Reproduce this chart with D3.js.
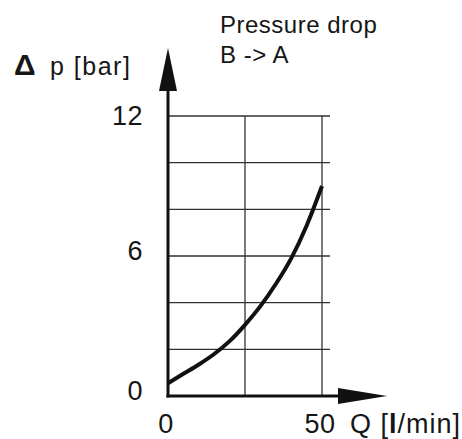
<!DOCTYPE html>
<html>
<head>
<meta charset="utf-8">
<script src="https://cdn.jsdelivr.net/npm/d3@7"></script>
<style>
  html, body { margin: 0; padding: 0; background: #fff; }
  text { font-family: "Liberation Sans", Arial, Helvetica, sans-serif; fill: #161616; }
</style>
</head>
<body>
<div id="chart"></div>
<script>
// DATA
const flowQ = [0, 5, 10, 15, 20, 25, 30, 35, 40, 45, 50];
const dropP = [0.55, 0.95, 1.35, 1.8, 2.35, 3.05, 3.85, 4.8, 5.9, 7.3, 9.0];
const yTicks = [0, 6, 12];
const xTicks = [0, 50];
const yGrid = [2, 4, 6, 8, 10, 12];
const xGrid = [25, 50];

const w = 462, h = 439;

const svg = d3.select("#chart").append("svg")
    .attr("width", w)
    .attr("height", h);

// SCALES
const x = d3.scaleLinear().domain([0, 50]).range([168, 322]);
const y = d3.scaleLinear().domain([0, 12]).range([396, 116]);

// GRID
svg.selectAll(".hgrid").data(yGrid).enter()
    .append("line")
    .attr("class", "hgrid")
    .attr("x1", x(0)).attr("x2", x(50) + 8)
    .attr("y1", d => y(d)).attr("y2", d => y(d))
    .style("stroke", "#333").style("stroke-width", 1.3);

svg.selectAll(".vgrid").data(xGrid).enter()
    .append("line")
    .attr("class", "vgrid")
    .attr("x1", d => x(d)).attr("x2", d => x(d))
    .attr("y1", y(0)).attr("y2", y(12))
    .style("stroke", "#333").style("stroke-width", 1.3);

// AXES with arrows
svg.append("line")
    .attr("x1", x(0)).attr("x2", x(0))
    .attr("y1", y(0) + 1.5).attr("y2", 88)
    .style("stroke", "#111").style("stroke-width", 3);
svg.append("path")
    .attr("d", `M${x(0)},48 L${x(0) - 9},91 L${x(0) + 9},91 Z`)
    .style("fill", "#111");

svg.append("line")
    .attr("x1", x(0) - 1.5).attr("x2", 340)
    .attr("y1", y(0)).attr("y2", y(0))
    .style("stroke", "#111").style("stroke-width", 3);
svg.append("path")
    .attr("d", `M387,${y(0)} L338,${y(0) - 8} L338,${y(0) + 8} Z`)
    .style("fill", "#111");

// TICK LABELS (top label sits on its line, the lower ones a bit above)
svg.selectAll(".ylab").data(yTicks).enter()
    .append("text")
    .attr("class", "ylab")
    .attr("x", 143)
    .attr("y", (d, i) => y(d) + (i === yTicks.length - 1 ? 0 : -5))
    .attr("dy", "0.35em")
    .style("text-anchor", "end")
    .style("font-size", "27px")
    .style("letter-spacing", "0.5px")
    .text(d => d);

svg.selectAll(".xlab").data(xTicks).enter()
    .append("text")
    .attr("class", "xlab")
    .attr("x", d => x(d) - 2)
    .attr("y", 433)
    .style("text-anchor", "middle")
    .style("font-size", "27px")
    .style("letter-spacing", "0.5px")
    .text(d => d);

// AXES LABELS
const qLab = svg.append("text")
    .attr("x", 350).attr("y", 433)
    .style("font-size", "27px")
    .style("letter-spacing", "1px");
qLab.append("tspan").text("Q [");
qLab.append("tspan").style("font-weight", "bold").text("l");
qLab.append("tspan").text("/min]");

svg.append("text")
    .attr("x", 14).attr("y", 75)
    .style("font-size", "30px")
    .style("font-weight", "bold")
    .text("Δ");
svg.append("text")
    .attr("x", 50).attr("y", 75)
    .style("font-size", "25px")
    .style("letter-spacing", "1.5px")
    .text("p [bar]");

svg.append("text")
    .attr("x", 220).attr("y", 33)
    .style("font-size", "24px")
    .style("letter-spacing", "0.5px")
    .text("Pressure drop");
svg.append("text")
    .attr("x", 220).attr("y", 63)
    .style("font-size", "24px")
    .style("letter-spacing", "0.5px")
    .text("B -> A");

// CURVE
const line = d3.line()
    .x((d, i) => x(flowQ[i]))
    .y(d => y(d))
    .curve(d3.curveMonotoneX);

svg.append("path")
    .datum(dropP)
    .attr("d", line)
    .style("fill", "none")
    .style("stroke", "#111")
    .style("stroke-width", 4);
</script>
</body>
</html>
